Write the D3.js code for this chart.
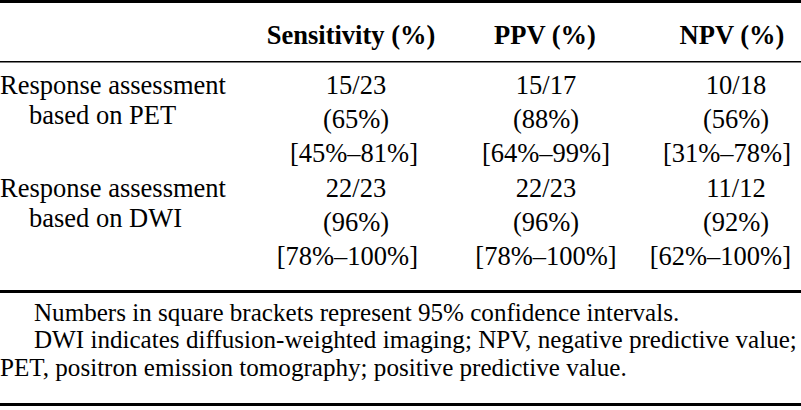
<!DOCTYPE html>
<html><head><meta charset="utf-8">
<script src="https://cdn.jsdelivr.net/npm/d3@7"></script>
<style>html,body{margin:0;padding:0;background:#fff;}svg{display:block;}</style>
</head><body>
<svg id="chart" width="801" height="410"></svg>
<script>
// ---- data ----
const columns = ["Sensitivity (%)", "PPV (%)", "NPV (%)"];
const rowLabels = [["Response assessment", "based on PET"], ["Response assessment", "based on DWI"]];
const fractions = [["15/23", "15/17", "10/18"], ["22/23", "22/23", "11/12"]];
const percents = [[65, 88, 56], [96, 96, 92]];
const ciLow = [[45, 64, 31], [78, 78, 62]];
const ciHigh = [[81, 99, 78], [100, 100, 100]];
const notes = [
  "Numbers in square brackets represent 95% confidence intervals.",
  "DWI indicates diffusion-weighted imaging; NPV, negative predictive value;",
  "PET, positron emission tomography; positive predictive value."
];

// ---- layout ----
const W = 801, H = 410;
const svg = d3.select("#chart");
const font = "'Liberation Serif','Times New Roman',serif";
const fs = 26.5;

const colX = d3.scalePoint().domain(columns).range([356, 736]);
const headerShift = [-5, -1, -4];
const rightLimit = [418, 640, 791];

const rowStart = d3.scaleLinear().domain([0, 1]).range([94, 197]);
const dataLineH = 34, labelLineH = 30;

// rules
svg.append("rect").attr("x", 0).attr("y", 0).attr("width", W).attr("height", 3).attr("fill", "#000");
svg.append("rect").attr("x", 0).attr("y", 61).attr("width", W).attr("height", 1.5).attr("fill", "#000");
svg.append("rect").attr("x", 0).attr("y", 290).attr("width", W).attr("height", 3).attr("fill", "#000");
svg.append("rect").attr("x", 0).attr("y", 403).attr("width", W).attr("height", 3).attr("fill", "#000");

// header
svg.selectAll("text.head").data(columns).join("text")
  .attr("class", "head")
  .attr("x", (d, i) => colX(d) + headerShift[i])
  .attr("y", 44)
  .attr("text-anchor", "middle")
  .attr("font-family", font).attr("font-size", fs).attr("font-weight", "bold")
  .text(d => d);

// body
d3.range(rowLabels.length).forEach(r => {
  rowLabels[r].forEach((t, k) => {
    svg.append("text")
      .attr("x", k === 0 ? 0 : 29)
      .attr("y", rowStart(r) + k * labelLineH)
      .attr("font-family", font).attr("font-size", fs)
      .text(t);
  });
  columns.forEach((c, ci) => {
    const lines = [
      fractions[r][ci],
      "(" + percents[r][ci] + "%)",
      "[" + ciLow[r][ci] + "%\u2013" + ciHigh[r][ci] + "%]"
    ];
    lines.forEach((t, k) => {
      const el = svg.append("text")
        .attr("y", rowStart(r) + k * dataLineH)
        .attr("text-anchor", "middle")
        .attr("font-family", font).attr("font-size", fs)
        .text(t);
      const w = el.node().getComputedTextLength();
      el.attr("x", Math.min(colX(c), rightLimit[ci] - w / 2));
    });
  });
});

// notes
const noteY = [321, 348, 376];
const noteX = [34, 34, 0];
notes.forEach((t, i) => {
  svg.append("text")
    .attr("x", noteX[i]).attr("y", noteY[i])
    .attr("font-family", font).attr("font-size", 25.1)
    .text(t);
});
</script>
</body></html>
